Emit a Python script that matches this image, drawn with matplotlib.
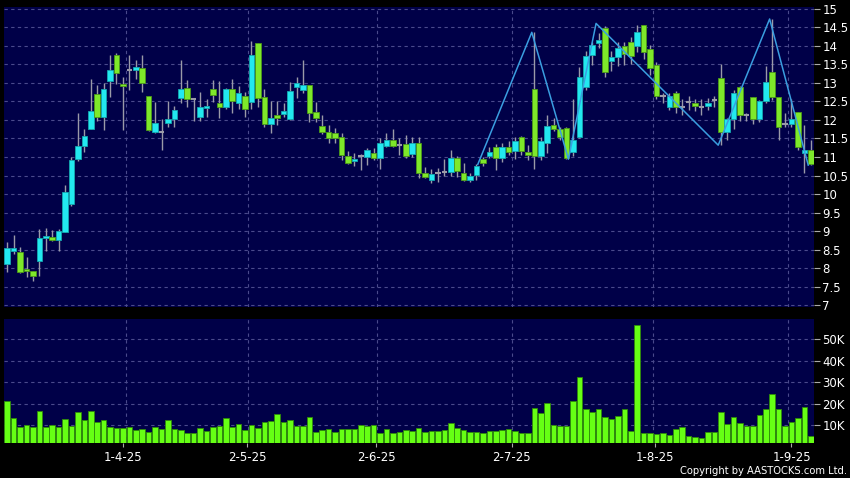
import numpy as np
import matplotlib.pyplot as plt
from matplotlib.ticker import FuncFormatter

# daily OHLC (index 0 = first candle)
opens = [8.12, 8.45, 8.42, 7.98, 7.91, 8.19, 8.80, 8.85, 8.76, 8.98,
         9.73, 10.95, 11.30, 11.77, 12.70, 12.07, 13.06, 13.75, 12.97, 13.36,
         13.35, 13.40, 12.66, 11.67, 11.67, 11.91, 12.02, 12.60, 12.86, 12.58,
         12.07, 12.32, 12.83, 12.45, 12.34, 12.83, 12.45, 12.66, 12.48, 14.07,
         12.61, 11.89, 12.14, 12.15, 12.02, 12.90, 12.82, 12.94, 12.21, 11.85,
         11.68, 11.66, 11.53, 11.04, 10.89, 11.03, 11.00, 11.12, 10.97, 11.30,
         11.45, 11.33, 11.34, 11.08, 11.39, 10.58, 10.38, 10.58, 10.59, 10.59,
         10.96, 10.58, 10.38, 10.51, 10.94, 11.04, 11.26, 10.96, 11.28, 11.15,
         11.53, 11.14, 12.83, 11.03, 11.39, 11.86, 11.75, 11.78, 11.14, 11.55,
         12.88, 13.76, 14.07, 14.48, 13.59, 13.69, 14.01, 14.10, 13.99, 14.57,
         13.91, 13.49, 12.65, 12.36, 12.73, 12.36, 12.48, 12.46, 12.36, 12.38,
         12.54, 13.14, 11.67, 12.04, 12.88, 12.14, 12.61, 12.04, 12.50, 13.29,
         12.63, 11.88, 11.88, 12.22, 11.10, 11.20]
highs = [8.69, 8.89, 8.58, 8.29, 7.93, 9.05, 9.07, 9.02, 9.05, 10.24,
         11.00, 12.18, 11.77, 13.12, 12.94, 12.99, 13.75, 13.82, 13.15, 13.75,
         13.62, 13.76, 12.66, 12.49, 12.03, 12.51, 12.38, 13.62, 13.08, 12.60,
         12.77, 12.58, 13.08, 13.05, 12.86, 13.10, 12.92, 12.77, 14.14, 14.07,
         12.83, 12.50, 12.52, 12.45, 13.04, 13.17, 13.62, 12.94, 12.48, 12.13,
         11.86, 11.78, 11.66, 11.15, 11.10, 11.08, 11.23, 11.24, 11.50, 11.65,
         11.75, 11.50, 11.59, 11.54, 11.54, 10.72, 10.67, 10.70, 10.94, 11.19,
         11.03, 10.83, 10.56, 10.82, 11.00, 11.28, 11.35, 11.37, 11.44, 11.55,
         11.57, 11.32, 14.37, 11.55, 12.14, 12.05, 11.80, 11.80, 12.57, 13.44,
         13.87, 14.12, 14.34, 14.55, 13.87, 14.10, 14.12, 14.23, 14.57, 14.57,
         14.03, 13.58, 12.72, 12.72, 12.78, 12.56, 12.65, 12.57, 12.58, 12.60,
         12.65, 13.52, 12.05, 12.81, 12.92, 12.20, 12.63, 12.54, 13.46, 14.73,
         12.63, 12.20, 12.57, 12.22, 11.87, 11.45]
lows = [7.88, 8.39, 7.87, 7.76, 7.65, 7.78, 8.46, 8.73, 8.46, 8.98,
        9.68, 10.90, 11.14, 11.77, 11.98, 11.73, 12.63, 12.96, 11.73, 12.81,
        13.12, 12.77, 11.70, 11.66, 11.19, 11.82, 11.82, 12.45, 12.34, 11.98,
        11.98, 12.09, 12.49, 12.06, 12.29, 12.18, 12.31, 12.07, 12.31, 12.34,
        11.82, 11.66, 11.86, 12.09, 12.00, 12.59, 12.74, 11.95, 11.95, 11.62,
        11.37, 11.37, 10.91, 10.80, 10.77, 10.66, 10.79, 10.92, 10.67, 11.26,
        11.26, 11.05, 10.98, 11.00, 10.42, 10.42, 10.29, 10.33, 10.50, 10.50,
        10.47, 10.35, 10.33, 10.39, 10.75, 10.98, 10.65, 10.87, 11.05, 10.94,
        11.05, 10.93, 10.67, 10.92, 11.12, 11.70, 11.45, 10.94, 11.03, 11.52,
        12.80, 13.49, 13.95, 13.15, 13.33, 13.47, 13.49, 13.50, 13.83, 13.65,
        13.22, 12.57, 12.47, 12.27, 12.20, 12.14, 12.27, 12.23, 12.14, 12.28,
        12.34, 11.33, 11.45, 11.77, 11.98, 11.96, 11.90, 11.95, 12.45, 12.55,
        11.47, 11.80, 11.80, 11.18, 10.58, 10.78]
closes = [8.53, 8.55, 7.90, 7.92, 7.78, 8.80, 8.86, 8.75, 9.00, 10.05,
          10.93, 11.29, 11.56, 12.24, 12.07, 12.85, 13.34, 13.28, 12.93, 13.36,
          13.42, 12.99, 11.73, 11.91, 11.67, 12.02, 12.27, 12.83, 12.56, 12.58,
          12.34, 12.38, 12.68, 12.34, 12.83, 12.51, 12.72, 12.29, 13.77, 12.59,
          11.89, 12.05, 12.05, 12.24, 12.78, 12.99, 12.94, 12.18, 12.06, 11.68,
          11.50, 11.52, 11.05, 10.83, 10.95, 11.03, 11.18, 10.97, 11.37, 11.45,
          11.31, 11.33, 11.04, 11.39, 10.56, 10.45, 10.53, 10.58, 10.59, 10.96,
          10.62, 10.38, 10.50, 10.76, 10.83, 11.14, 10.96, 11.28, 11.13, 11.44,
          11.17, 11.05, 11.03, 11.44, 11.83, 11.75, 11.53, 10.98, 11.45, 13.15,
          13.73, 14.02, 14.15, 13.31, 13.69, 13.94, 13.78, 13.74, 14.39, 13.85,
          13.40, 12.65, 12.65, 12.65, 12.36, 12.36, 12.48, 12.38, 12.36, 12.47,
          12.54, 11.67, 12.04, 12.74, 12.14, 12.14, 12.04, 12.50, 13.04, 12.63,
          11.80, 11.88, 12.04, 11.26, 11.18, 10.81]
# volume in thousands
volumes = [21.2, 13.1, 9.2, 9.8, 8.9, 16.5, 9.2, 9.8, 8.9, 12.8,
           9.5, 16.1, 12.2, 16.5, 11.3, 12.2, 9.2, 8.6, 8.6, 8.9,
           7.7, 8.3, 6.7, 9.1, 8.3, 12.2, 8.1, 7.7, 6.3, 6.3,
           8.6, 7.4, 9.2, 9.5, 13.1, 8.9, 10.3, 7.7, 10.2, 8.6,
           11.3, 11.9, 15.3, 11.4, 12.2, 9.7, 9.7, 13.9, 6.7, 7.7,
           8.3, 6.7, 8.1, 8.3, 8.3, 9.8, 9.4, 9.8, 6.3, 8.0,
           6.1, 6.6, 7.5, 7.4, 8.4, 6.9, 7.4, 7.2, 7.7, 10.8,
           8.8, 7.7, 6.7, 6.7, 6.1, 7.4, 7.4, 7.7, 8.1, 7.2,
           6.3, 6.4, 18.1, 15.5, 20.1, 10.0, 9.5, 9.7, 21.2, 32.4,
           17.4, 16.1, 17.3, 13.9, 12.9, 14.2, 17.3, 7.2, 56.6, 6.4,
           6.4, 5.8, 6.1, 5.3, 8.1, 9.1, 5.0, 4.6, 3.9, 6.7,
           6.9, 16.2, 10.3, 13.6, 10.8, 9.4, 9.7, 14.5, 17.4, 24.4,
           17.4, 9.7, 11.3, 13.1, 18.6, 4.9]

# zigzag overlay
zigzag_x = [73.2, 81.6, 87.3, 91.6, 110.6, 118.6, 124.6]
zigzag_y = [10.80, 14.37, 10.94, 14.61, 11.32, 14.73, 10.78]

date_labels = ['1-4-25', '2-5-25', '2-6-25', '2-7-25', '1-8-25', '1-9-25']
label_pos = [18.0, 37.3, 57.4, 78.5, 100.7, 122.0]
grid_pos = [18.5, 37.5, 57.5, 78.5, 100.5, 121.5]

price_ticks = np.arange(7, 15.01, 0.5)
vol_ticks = [10, 20, 30, 40, 50]

bg = '#000048'
up_col = '#22e8f0'
down_col = '#7ee82a'
flat_col = '#9a9aa8'
wick_col = '#9a9aa8'
grid_col = '#4a4a8c'

o = np.array(opens)
c = np.array(closes)
h = np.array(highs)
l = np.array(lows)
x = np.arange(len(o))

fig = plt.figure(figsize=(8.5, 4.78), dpi=100, facecolor='black')
ax1 = fig.add_axes([4 / 850, 1 - 307 / 478, 810 / 850, 300 / 478])
ax2 = fig.add_axes([4 / 850, 1 - 443 / 478, 810 / 850, 124 / 478])

for ax in (ax1, ax2):
    ax.set_facecolor(bg)
    for s in ax.spines.values():
        s.set_visible(False)
    ax.set_xlim(-0.5, 125.5)
    for g in grid_pos:
        ax.axvline(g, color=grid_col, lw=0.8, ls=(0, (3, 3)), zorder=0)
    ax.yaxis.tick_right()
    ax.tick_params(axis='y', colors='#aaaaaa', labelcolor='white',
                   labelsize=8.5, length=4, width=0.8, pad=2)

# price panel
ax1.set_ylim(6.946, 15.054)
for p in price_ticks:
    ax1.axhline(p, color=grid_col, lw=0.8, ls=(0, (3, 3)), zorder=0)
ax1.set_yticks(price_ticks)
ax1.set_yticklabels([f'{p:g}' for p in price_ticks])
ax1.set_xticks([])

ax1.vlines(x, l, h, color=wick_col, lw=1.0, zorder=2)
w = 0.86
for i in x:
    if c[i] > o[i]:
        ax1.bar(i, c[i] - o[i], w, bottom=o[i], color=up_col,
                edgecolor='#14a8b0', lw=0.6, zorder=3)
    elif c[i] < o[i]:
        ax1.bar(i, o[i] - c[i], w, bottom=c[i], color=down_col,
                edgecolor='#4c9a18', lw=0.6, zorder=3)
    else:
        ax1.hlines(o[i], i - w / 2, i + w / 2, color=flat_col, lw=1.5, zorder=3)

ax1.plot(zigzag_x, zigzag_y, color='#3a9ee0', lw=1.1, zorder=4)

# volume panel
ax2.set_ylim(1.6, 59.4)
for v in vol_ticks:
    ax2.axhline(v, color=grid_col, lw=0.8, ls=(0, (3, 3)), zorder=0)
ax2.bar(x, volumes, 0.86, bottom=0, color='#66ff14', edgecolor='#2f8a0a',
        lw=0.6, zorder=3)
ax2.set_yticks(vol_ticks)
ax2.yaxis.set_major_formatter(FuncFormatter(lambda v, _: f'{int(v)}K'))
ax2.set_xticks(label_pos)
ax2.set_xticklabels(date_labels)
ax2.tick_params(axis='x', colors='#aaaaaa', labelcolor='white',
                labelsize=8.5, length=3, width=0.8, pad=3)

fig.text(847 / 850, 1 - 471 / 478, 'Copyright by AASTOCKS.com Ltd.',
         ha='right', va='center', color='white', fontsize=7.2)

fig.savefig('out.png', dpi=100, facecolor='black')
